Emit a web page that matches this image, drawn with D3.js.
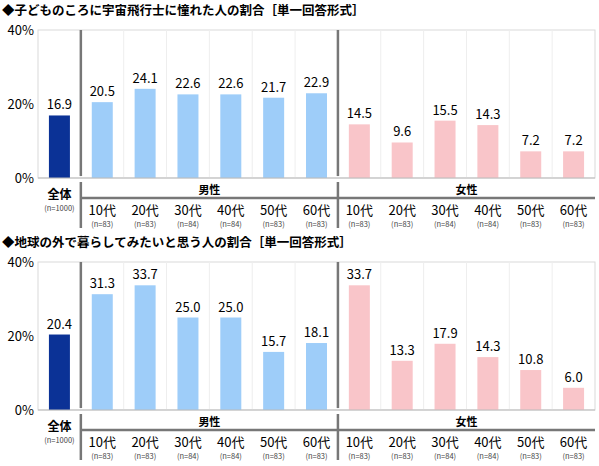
<!DOCTYPE html>
<html><head><meta charset="utf-8">
<script src="https://cdn.jsdelivr.net/npm/d3@7"></script>
<style>body{margin:0;background:#fff;font-family:"Noto Sans CJK JP",sans-serif}</style>
</head><body>
<script>
const categories = ["全体","10代","20代","30代","40代","50代","60代","10代","20代","30代","40代","50代","60代"];
const counts = ["n=1000","n=83","n=83","n=84","n=84","n=83","n=83","n=83","n=83","n=84","n=84","n=83","n=83"];
const titles = ["◆子どものころに宇宙飛行士に憧れた人の割合［単一回答形式］","◆地球の外で暮らしてみたいと思う人の割合［単一回答形式］"];
const values1 = [16.9,20.5,24.1,22.6,22.6,21.7,22.9,14.5,9.6,15.5,14.3,7.2,7.2];
const values2 = [20.4,31.3,33.7,25.0,25.0,15.7,18.1,33.7,13.3,17.9,14.3,10.8,6.0];
const yTicks = [0,20,40];

const W = 599, H = 466;
const svg = d3.select("body").append("svg").attr("width", W).attr("height", H);
const x = d3.scaleBand().domain(d3.range(13)).range([38, 595]);
const color = i => i === 0 ? "#0b3296" : (i <= 6 ? "#9ecdf9" : "#f9c5c9");

function panel(top, title, values) {
    const g = svg.append("g").attr("transform", "translate(0," + top + ")");
    const y = d3.scaleLinear().domain([0, 40]).range([178, 30]);
    g.append("text").attr("x", 2).attr("y", 15).attr("font-size", 12.5).attr("font-weight", "bold").text(title);
    g.append("rect").attr("x", 38).attr("y", 30).attr("width", 557).attr("height", 148)
        .attr("fill", "none").attr("stroke", "#d9d9d9");
    g.selectAll(".grid").data(d3.range(1, 13)).enter().append("line")
        .attr("x1", d => x(d)).attr("x2", d => x(d)).attr("y1", 30).attr("y2", 178)
        .attr("stroke", "#eeeeee");
    g.selectAll(".yt").data(yTicks).enter().append("text")
        .attr("x", 34).attr("y", d => y(d) + 5).attr("text-anchor", "end")
        .attr("font-size", 13).text(d => d + "%");
    const bw = 21;
    g.selectAll(".bar").data(values).enter().append("rect")
        .attr("x", (d, i) => x(i) + x.bandwidth() / 2 - bw / 2).attr("width", bw)
        .attr("y", d => y(d)).attr("height", d => 178 - y(d)).attr("fill", (d, i) => color(i));
    g.selectAll(".val").data(values).enter().append("text")
        .attr("x", (d, i) => x(i) + x.bandwidth() / 2).attr("y", d => y(d) - 6)
        .attr("text-anchor", "middle").attr("font-size", 13).text(d => d.toFixed(1));
    g.append("line").attr("x1", 38).attr("x2", 595).attr("y1", 178).attr("y2", 178).attr("stroke", "#bbb");
    // separators
    [1, 7].forEach(i => {
        g.append("line").attr("x1", x(i)).attr("x2", x(i)).attr("y1", 30).attr("y2", 176)
            .attr("stroke", "#777").attr("stroke-width", 2.5);
        g.append("line").attr("x1", x(i)).attr("x2", x(i)).attr("y1", 182).attr("y2", 228)
            .attr("stroke", "#777").attr("stroke-width", 2.5);
    });
    g.append("line").attr("x1", x(1)).attr("x2", 595).attr("y1", 198).attr("y2", 198)
        .attr("stroke", "#777").attr("stroke-width", 2.5);
    [["男性", (x(1) + x(7)) / 2], ["女性", (x(7) + 595) / 2]].forEach(([t, cx]) => {
        g.append("text").attr("x", cx).attr("y", 194).attr("text-anchor", "middle")
            .attr("font-size", 11).attr("font-weight", "bold").text(t);
    });
    g.selectAll(".cat").data(categories).enter().append("text")
        .attr("x", (d, i) => x(i) + x.bandwidth() / 2).attr("y", (d, i) => i === 0 ? 199 : 215)
        .attr("text-anchor", "middle").attr("font-size", (d, i) => i === 0 ? 12 : 13)
        .attr("font-weight", (d, i) => i === 0 ? "bold" : "normal").text(d => d);
    g.selectAll(".n").data(counts).enter().append("text")
        .attr("x", (d, i) => x(i) + x.bandwidth() / 2).attr("y", (d, i) => i === 0 ? 211 : 227)
        .attr("text-anchor", "middle").attr("font-size", 7.5).attr("fill", "#444").text(d => "(" + d + ")");
}
panel(0, titles[0], values1);
panel(232, titles[1], values2);
</script>
</body></html>
